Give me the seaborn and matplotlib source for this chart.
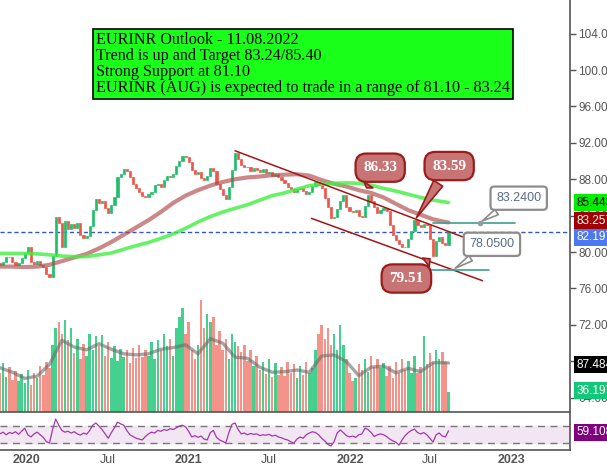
import numpy as np
import pandas as pd
import seaborn as sns
import matplotlib.pyplot as plt
from matplotlib.transforms import blended_transform_factory

# weekly EURINR closes (starting 2019-11-01)
start = '2019-11-01'
first_open = 78.8
closes = [78.6, 78.9, 79.5, 79.4, 78.9, 78.6, 78.8, 79.3, 79.9, 80.5,
          78.9, 78.7, 79.0, 78.6, 78.4, 77.6, 77.3, 79.6, 83.8, 83.2,
          80.5, 83.4, 82.5, 83.1, 82.6, 83.2, 81.9, 81.5, 81.8, 82.9,
          84.6, 85.8, 85.4, 85.6, 84.8, 84.3, 85.2, 86.1, 88.2, 88.6,
          89.1, 88.9, 88.2, 87.5, 87.0, 86.6, 86.2, 86.0, 86.4, 86.6,
          87.4, 87.5, 87.1, 87.9, 88.4, 88.2, 88.6, 89.5, 90.0, 90.6,
          90.4, 89.9, 89.0, 88.6, 88.8, 88.1, 87.9, 88.4, 89.2, 88.9,
          87.5, 86.9, 86.3, 85.8, 87.2, 89.0, 90.9, 90.2, 89.6, 89.4,
          89.3, 88.9, 89.2, 89.0, 88.8, 89.1, 88.7, 88.8, 88.4, 88.6,
          88.2, 87.9, 87.6, 87.1, 86.9, 86.6, 86.9, 87.0, 86.7, 86.4,
          86.6, 87.3, 87.7, 87.4, 87.0, 85.9, 84.9, 83.7, 83.8, 84.7,
          85.6, 86.3, 85.0, 84.5, 84.4, 84.6, 84.0, 83.8, 85.1, 86.3,
          85.6, 84.9, 84.3, 84.6, 84.8, 84.5, 83.0, 81.9, 81.3, 80.9,
          80.6, 80.5, 81.4, 82.3, 83.5, 83.0, 82.7, 83.1, 83.0, 81.4,
          79.6, 81.2, 81.7, 81.0, 80.8, 82.2]
volumes = [70, 88, 62, 80, 58, 74, 55, 68, 52, 75,
           48, 70, 60, 82, 66, 90, 78, 120, 150, 160,
           140, 165, 128, 150, 105, 130, 95, 122, 100, 140,
           110, 135, 118, 138, 100, 125, 96, 118, 92, 112,
           98, 110, 88, 115, 96, 120, 98, 110, 100, 125,
           95, 128, 110, 140, 118, 130, 100, 150, 170, 185,
           140, 160, 110, 95, 120, 200, 150, 175, 160, 170,
           120, 145, 110, 130, 95, 140, 125, 118, 108, 120,
           92, 110, 82, 100, 75, 90, 68, 95, 62, 88,
           66, 80, 64, 90, 70, 85, 60, 82, 66, 90,
           70, 78, 110, 140, 155, 130, 150, 120, 140, 110,
           155, 120, 95, 70, 55, 60, 85, 75, 95, 72,
           100, 80, 95, 78, 88, 65, 82, 60, 90, 70,
           95, 75, 92, 70, 100, 70, 80, 135, 85, 105,
           90, 110, 95, 108, 90, 36.197]
rsi = [52, 56, 50, 55, 53, 57, 51, 58, 65, 50,
       45, 52, 56, 50, 44, 34, 31, 62, 86, 72,
       60, 56, 58, 54, 57, 52, 49, 54, 51, 60,
       72, 77, 70, 62, 52, 42, 55, 66, 79, 75,
       72, 60, 50, 46, 42, 40, 38, 46, 52, 56,
       54, 60, 58, 62, 60, 64, 62, 66, 70, 72,
       68, 58, 45, 48, 44, 47, 40, 38, 55, 60,
       44, 38, 35, 31, 55, 74, 77, 62, 52, 54,
       50, 53, 51, 52, 48, 50, 49, 51, 47, 49,
       45, 43, 40, 38, 34, 31, 40, 45, 42, 50,
       54, 57, 55, 50, 42, 36, 28, 24, 34, 54,
       61, 55, 48, 45, 47, 44, 50, 52, 65, 62,
       55, 46, 50, 52, 50, 46, 40, 36, 33, 26,
       38, 48, 55, 60, 63, 55, 52, 55, 50, 42,
       33, 50, 54, 47, 45, 59.108]

# moving averages, read every 4th week + last week
ma_brown = [78.4, 78.4, 78.35, 78.4, 78.6, 79.0, 79.4, 79.8, 80.4, 81.1,
            81.9, 82.7, 83.5, 84.4, 85.4, 86.2, 86.8, 87.3, 87.7, 88.0,
            88.2, 88.3, 88.45, 88.5, 88.55, 88.4, 87.9, 87.5, 87.2, 86.8,
            86.5, 86.0, 85.3, 84.6, 84.1, 83.6, 83.3, 83.257]
ma_green = [79.85, 79.85, 79.85, 79.8, 79.7, 79.55, 79.5, 79.5, 79.7, 79.9,
            80.3, 80.7, 81.05, 81.5, 82.0, 82.6, 83.3, 83.9, 84.4, 84.8,
            85.2, 85.7, 86.2, 86.5, 86.9, 87.3, 87.45, 87.55, 87.6, 87.55,
            87.35, 87.0, 86.7, 86.35, 86.0, 85.7, 85.5, 85.443]
vol_ma = [79, 71, 60, 64, 85, 128, 116, 111, 122, 112,
          104, 102, 104, 112, 115, 120, 104, 131, 123, 98,
          96, 80, 71, 72, 75, 71, 100, 102, 90, 65,
          80, 82, 70, 78, 72, 88, 88, 87.484]

# analyst drawings
upper_channel = (['2021-04-16', '2022-11-07'], [91.13, 80.66])
lower_channel = (['2021-10-06', '2022-10-28'], [83.70, 76.85])
target_hi = (['2022-07-08', '2023-01-09'], 83.24)
target_lo = (['2022-06-27', '2022-11-12'], 78.05)
last_price = 82.197

tick_dates = ['2020-01-01', '2020-07-01', '2021-01-01', '2021-07-01',
              '2022-01-01', '2022-07-01', '2023-01-01']
tick_labels = ['2020', 'Jul', '2021', 'Jul', '2022', 'Jul', '2023']
price_ticks = [64, 68, 72, 76, 80, 84, 88, 92, 96, 100, 104]

outlook = ("EURINR Outlook - 11.08.2022\n"
           "Trend is up and Target 83.24/85.40\n"
           "Strong Support at 81.10\n"
           "EURINR (AUG) is expected to trade in a range of 81.10 - 83.24")

sns.set_theme(style='white')
plt.rcParams['font.family'] = ['Liberation Sans', 'DejaVu Sans']

dates = pd.date_range(start, periods=len(closes), freq='7D')
opens = [first_open] + closes[:-1]
df = pd.DataFrame({'date': dates, 'open': opens, 'close': closes,
                   'volume': volumes, 'rsi': rsi})
up = df['close'] >= df['open']
ma_idx = list(range(0, len(closes), 4)) + [len(closes) - 1]
ma = pd.DataFrame({'date': dates[ma_idx], 'brown': ma_brown,
                   'green': ma_green, 'vol': vol_ma})

fig = plt.figure(figsize=(6.07, 4.70), dpi=100)
rect = [0, 58 / 470, 570 / 607, 412 / 470]
ax_vol = fig.add_axes(rect)
ax = fig.add_axes(rect, sharex=ax_vol)
ax_rsi = fig.add_axes([0, 20 / 470, 570 / 607, 37 / 470], sharex=ax_vol)
ax.patch.set_visible(False)

xmin, xmax = pd.Timestamp('2019-11-01'), pd.Timestamp('2023-05-14')

# volume pane
ax_vol.bar(df['date'], df['volume'], width=5.6,
           color=np.where(up, '#45d08f', '#f4938a'), linewidth=0)
sns.lineplot(data=ma, x='date', y='vol', ax=ax_vol, color='#6a6a6a',
             alpha=0.6, lw=2.4, legend=False)
ax_vol.set_ylim(0, 736)
ax_vol.axis('off')

# price pane
ax.bar(df['date'], df['close'] - df['open'], bottom=df['open'], width=4.8,
       color=np.where(up, '#1fbf6a', '#f0554a'),
       edgecolor=np.where(up, '#1fbf6a', '#f0554a'), linewidth=0.5, zorder=3)
sns.lineplot(data=ma, x='date', y='brown', ax=ax, color='#b04848',
             alpha=0.65, lw=3, legend=False, zorder=4)
sns.lineplot(data=ma, x='date', y='green', ax=ax, color='#40ee40',
             alpha=0.8, lw=2.6, legend=False, zorder=4)
ax.axhline(last_price, color='#3355cc', lw=1, ls=(0, (3, 2)), zorder=2)
for xs, ys in (upper_channel, lower_channel):
    ax.plot(pd.to_datetime(xs), ys, color='#a01515', lw=1.1, zorder=5)
for xs, y in (target_hi, target_lo):
    ax.plot(pd.to_datetime(xs), [y, y], color='#3f9f8f', lw=1.2, zorder=5)

ax.set_xlim(xmin, xmax)
ax.set_ylim(62.42, 107.7)
ax.set_yticks(price_ticks)
ax.set_yticklabels([f'{v:.3f}' for v in price_ticks])
ax.yaxis.tick_right()
ax.tick_params(axis='y', which='both', direction='out', length=4, width=1,
               color='#555555', labelcolor='#555555', labelsize=8.5, pad=2)
ax.tick_params(axis='x', bottom=False, labelbottom=False)
for s in ['left', 'top']:
    ax.spines[s].set_visible(False)
for s in ['right', 'bottom']:
    ax.spines[s].set_color('#555555')
    ax.spines[s].set_linewidth(1.2)
ax.set_xlabel('')
ax.set_ylabel('')

# green outlook box
ax.text(96 / 570, 1 - 32 / 412, outlook, transform=ax.transAxes, ha='left',
        va='top', fontsize=11.6, family='Liberation Serif', color='black',
        linespacing=1.0, zorder=10,
        bbox=dict(boxstyle='square,pad=0.18', fc='#1aff1a', ec='black', lw=1.2))

# red callouts
red_box = dict(boxstyle='round,pad=0.5,rounding_size=0.7', fc='#c87474',
               ec='#9b1c1c', lw=1.6)
red_arrow = dict(arrowstyle='wedge,tail_width=0.7,shrink_factor=0.5',
                 fc='#c87474', ec='#9b1c1c', lw=1.2)
callouts = [('86.33', '2022-02-04', 86.8, 0.667, 0.593),
            ('83.59', '2022-05-28', 83.5, 0.788, 0.597),
            ('79.51', '2022-07-06', 79.45, 0.713, 0.324)]
for txt, d, p, fx, fy in callouts:
    ax.annotate(txt, xy=(pd.Timestamp(d), p), xytext=(fx, fy),
                textcoords='axes fraction', ha='center', va='center',
                fontsize=11, fontweight='bold', family='Liberation Serif',
                color='white', bbox=red_box, arrowprops=red_arrow, zorder=11)

# gray price callouts
gray_box = dict(boxstyle='round,pad=0.45,rounding_size=0.3', fc='white',
                ec='#8c8c8c', lw=1.6)
gray_arrow = dict(arrowstyle='wedge,tail_width=0.5,shrink_factor=0.5',
                  fc='white', ec='#8c8c8c', lw=1.2)
for txt, d, p, fx, fy in [('83.2400', '2022-10-22', 83.24, 0.910, 0.519),
                          ('78.0500', '2022-08-22', 78.05, 0.863, 0.407)]:
    ax.annotate(txt, xy=(pd.Timestamp(d), p), xytext=(fx, fy),
                textcoords='axes fraction', ha='center', va='center',
                fontsize=9, color='#5b6b85', bbox=gray_box,
                arrowprops=gray_arrow, zorder=11)
ax.plot(pd.Timestamp('2022-10-22'), 83.24, 'o', ms=3, color='#999999', zorder=12)

# right-axis value tags
trans = blended_transform_factory(ax.transAxes, ax.transData)
tags = [(85.443, '85.443', '#00ee00', 'black'),
        (83.45, '83.257', '#a00000', 'white'),
        (81.6, '82.197', '#4d79f0', 'white'),
        (67.6, '87.484', 'black', 'white'),
        (64.75, '36.197', '#10c878', 'white')]
for y, txt, fc, tc in tags:
    ax.text(1.011, y, txt, transform=trans, ha='left', va='center',
            fontsize=8.5, color=tc, clip_on=False, zorder=12,
            bbox=dict(boxstyle='square,pad=0.22', fc=fc, ec='none'))

# RSI pane
ax_rsi.axhspan(30, 70, color='#f3e6f3', zorder=0)
for lvl in (30, 70):
    ax_rsi.axhline(lvl, color='#777777', lw=1, ls=(0, (5, 4)), zorder=1)
sns.lineplot(data=df, x='date', y='rsi', ax=ax_rsi, color='#a03aa8',
             lw=0.9, legend=False, zorder=3)
ax_rsi.set_ylim(15, 100)
ax_rsi.set_yticks([])
ax_rsi.set_xlim(xmin, xmax)
ax_rsi.set_xticks(pd.to_datetime(tick_dates))
ax_rsi.set_xticklabels(tick_labels)
ax_rsi.tick_params(axis='x', length=0, labelsize=9, labelcolor='#555555', pad=3)
for lbl in ax_rsi.get_xticklabels():
    if lbl.get_text() != 'Jul':
        lbl.set_fontweight('bold')
for s in ['left', 'top']:
    ax_rsi.spines[s].set_visible(False)
for s in ['right', 'bottom']:
    ax_rsi.spines[s].set_color('#555555')
    ax_rsi.spines[s].set_linewidth(1.2)
ax_rsi.set_xlabel('')
ax_rsi.set_ylabel('')
trans_r = blended_transform_factory(ax_rsi.transAxes, ax_rsi.transData)
ax_rsi.text(1.011, 56, '59.108', transform=trans_r, ha='left', va='center',
            fontsize=8.5, color='white', clip_on=False,
            bbox=dict(boxstyle='square,pad=0.22', fc='#800080', ec='none'))

fig.savefig('out.png', dpi=100)
